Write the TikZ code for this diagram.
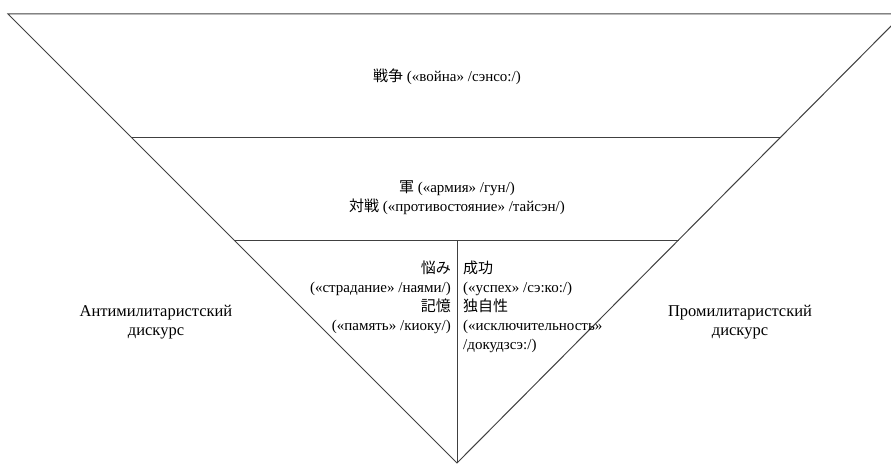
\documentclass[tikz,border=0pt]{standalone}
\usepackage{fontspec}
\setmainfont{Liberation Serif}
\newfontfamily\cjk{Noto Sans CJK JP}
\begin{document}
\begin{tikzpicture}[x=1pt,y=-1pt,
  edge/.style={draw=black!75,line width=1pt},
  lbl/.style={inner sep=0pt,font=\fontsize{15}{19}\selectfont},
  side/.style={inner sep=0pt,font=\fontsize{16.5}{19}\selectfont},
]
\useasboundingbox (0,0) rectangle (891,465);
\clip (0,0) rectangle (891,465);
\coordinate (TL) at (8,14);
\coordinate (TR) at (903,14);
\coordinate (A) at (457,463);
\coordinate (L1) at (132,138);
\coordinate (R1) at (781,138);
\coordinate (L2) at (234,240);
\coordinate (R2) at (679,240);
\coordinate (M2) at (457,240);
\draw[edge] (TL) -- (TR) -- (A) -- cycle;
\draw[edge] (L1) -- (R1);
\draw[edge] (L2) -- (R2);
\draw[edge] (M2) -- (A);
\node[lbl] (war) at (447,77) {{\cjk 戦争} («война» /сэнсо:/)};
\node[lbl,align=center] (army) at (457,198) {{\cjk 軍} («армия» /гун/)\\{\cjk 対戦} («противостояние» /тайсэн/)};
\node[lbl,align=right,anchor=north east] (anti) at (451,261) {{\cjk 悩み}\\(«страдание» /наями/)\\{\cjk 記憶}\\(«память» /киоку/)};
\node[lbl,align=left,anchor=north west] (pro) at (463,261) {{\cjk 成功}\\(«успех» /сэ:ко:/)\\{\cjk 独自性}\\(«исключительность»\\/докудзсэ:/)};
\node[side,align=center] (antid) at (156,322) {Антимилитаристский\\дискурс};
\node[side,align=center] (prod) at (740,322) {Промилитаристский\\дискурс};
\end{tikzpicture}
\end{document}
